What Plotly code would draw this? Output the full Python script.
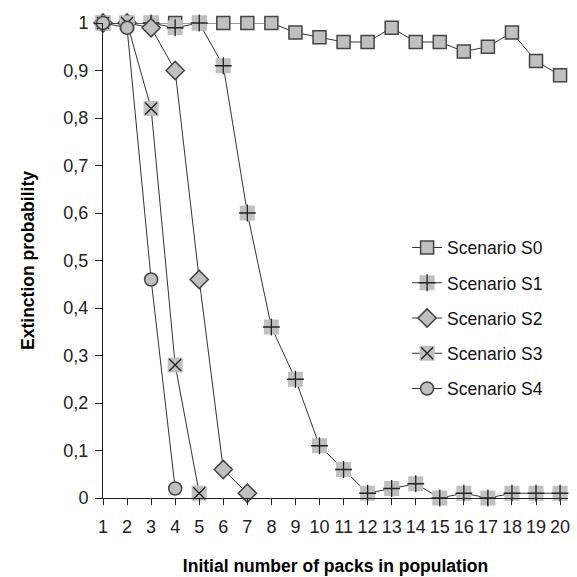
import plotly.graph_objects as go

x_vals = list(range(1, 21))
s0 = [1, 1, 1, 1, 1, 1, 1, 1, 0.98, 0.97, 0.96, 0.96, 0.99, 0.96, 0.96, 0.94, 0.95, 0.98, 0.92, 0.89]
s1 = [1, 1, 1, 0.99, 1, 0.91, 0.60, 0.36, 0.25, 0.11, 0.06, 0.01, 0.02, 0.03, 0.0, 0.01, 0.0, 0.01, 0.01, 0.01]
s2 = [1, 1, 0.99, 0.90, 0.46, 0.06, 0.01]
s3 = [1, 1, 0.82, 0.28, 0.01]
s4 = [1, 0.99, 0.46, 0.02]
names = ["Scenario S0", "Scenario S1", "Scenario S2", "Scenario S3", "Scenario S4"]
y_ticks = [0, 0.1, 0.2, 0.3, 0.4, 0.5, 0.6, 0.7, 0.8, 0.9, 1]
y_labels = ["0", "0,1", "0,2", "0,3", "0,4", "0,5", "0,6", "0,7", "0,8", "0,9", "1"]

FONT = "Liberation Sans, Arial, sans-serif"
LINE = "#333333"
GREY = "#c0c0c0"
EDGE = "#444444"
LEG_FONT = 17.5

fig = go.Figure()

def add_series(ys, name, symbol, size, outline, overlay=None):
    xs = x_vals[:len(ys)]
    fig.add_trace(go.Scatter(
        x=xs, y=ys, name=name, mode="lines+markers", legendgroup=name,
        legend="legend",
        line=dict(color=LINE, width=1),
        marker=dict(symbol=symbol, size=size, color=GREY,
                    line=dict(color=EDGE if outline else GREY, width=1.5 if outline else 0)),
        cliponaxis=False,
    ))
    if overlay:
        # cross drawn over the grey squares; also drawn in an overlaid legend
        fig.add_trace(go.Scatter(
            x=xs, y=ys, name=name, mode="markers", legendgroup=name + "_ov",
            legend="legend2", showlegend=True,
            marker=dict(symbol=overlay, size=size - 3, color=LINE,
                        line=dict(color="#222222", width=1.3)),
            cliponaxis=False,
        ))
    else:
        # invisible placeholder keeping rows aligned in the overlaid legend
        fig.add_trace(go.Scatter(
            x=[None], y=[None], name=name, mode="markers", legendgroup=name + "_ov",
            legend="legend2", showlegend=True,
            marker=dict(symbol=symbol, size=size, color="rgba(0,0,0,0)",
                        line=dict(width=0)),
            hoverinfo="skip",
        ))

add_series(s0, names[0], "square", 13, True)
add_series(s1, names[1], "square", 15, False, overlay="cross-thin")
add_series(s2, names[2], "diamond", 14, True)
add_series(s3, names[3], "square", 15, False, overlay="x-thin")
add_series(s4, names[4], "circle", 13, True)

legend_common = dict(x=0.654, y=0.565, xanchor="left", yanchor="top",
                     bgcolor="rgba(0,0,0,0)", traceorder="grouped",
                     tracegroupgap=9.5, itemwidth=30, borderwidth=0)

fig.update_layout(
    width=577, height=577,
    margin=dict(l=103, r=9, t=23, b=79),
    paper_bgcolor="white", plot_bgcolor="white",
    font=dict(family=FONT, size=18, color="#111111"),
    showlegend=True,
    legend=dict(**legend_common, font=dict(size=LEG_FONT, family=FONT, color="#111111")),
    legend2=dict(**legend_common, font=dict(size=LEG_FONT, family=FONT, color="rgba(0,0,0,0)")),
    xaxis=dict(range=[1, 20.33], tickmode="array", tickvals=x_vals,
               ticktext=[str(v) for v in x_vals], automargin=False,
               showgrid=False, zeroline=False, showline=True, linecolor="#222222", linewidth=1,
               ticks="outside", ticklen=6, tickcolor="#222222", ticklabelstandoff=6,
               tickfont=dict(size=18, family=FONT, color="#222222"),
               title=dict(text="<b>Initial number of packs in population</b>",
                          font=dict(size=17.5, family=FONT, color="#000000"), standoff=24)),
    yaxis=dict(range=[0, 1], tickmode="array", tickvals=y_ticks, ticktext=y_labels,
               automargin=False,
               showgrid=False, zeroline=False, showline=True, linecolor="#222222", linewidth=1,
               ticks="outside", ticklen=7, tickcolor="#222222", ticklabelstandoff=3,
               tickfont=dict(size=18, family=FONT, color="#222222"),
               title=dict(text="<b>Extinction probability</b>",
                          font=dict(size=17.5, family=FONT, color="#000000"), standoff=24)),
)

fig.write_html("out.html", config={"displayModeBar": False},
               post_script="document.body.style.margin='0';")
